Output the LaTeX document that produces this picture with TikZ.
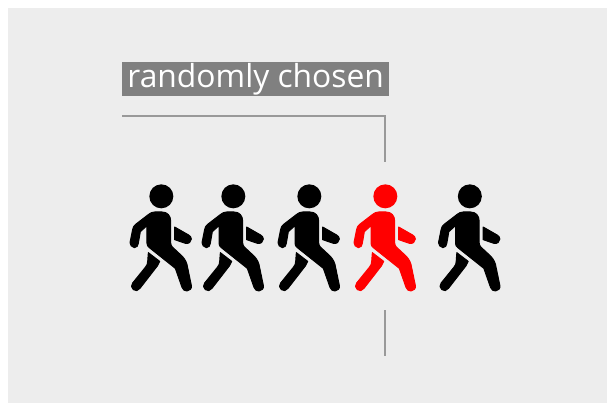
\documentclass[tikz,border=0pt]{standalone}
\usepackage{fontspec}
\setmainfont{Open Sans}
\definecolor{canvas}{HTML}{EDEDED}
\definecolor{labelgray}{HTML}{808080}
\definecolor{rulegray}{HTML}{999999}
\tikzset{
  rulerline/.style={draw=rulegray,line width=1.3pt},
  walker/.pic={
    \begin{scope}[x=0.3333pt,y=-0.3333pt,line width=1pt,line join=round]
    \fill[#1] (124,64) circle (36);
    \filldraw[#1] (30,203) .. controls (30,208) and (35,218) .. (43,218)
      .. controls (51,218) and (54,212) .. (55,205)
      -- (61,170) -- (81,152) -- (81,205)
      .. controls (81,211) and (84,215) .. (88,218)
      -- (166,280) -- (186,337)
      .. controls (189,345) and (194,348) .. (201,348)
      .. controls (210,348) and (216,340) .. (214,331)
      -- (203,278)
      .. controls (201,264) and (196,253) .. (186,243)
      -- (157,216)
      .. controls (154,213) and (152,208) .. (152,203)
      -- (152,138)
      .. controls (152,122) and (142,111) .. (126,111)
      -- (104,111)
      .. controls (97,111) and (91,114) .. (86,118)
      -- (47,148)
      .. controls (42,152) and (39,157) .. (38,163) -- cycle;
    \filldraw[#1] (164,156) -- (206,180)
      .. controls (211,183) and (214,187) .. (214,192)
      .. controls (214,200) and (206,208) .. (196,205)
      -- (164,194) -- cycle;
    \filldraw[#1] (85,233) -- (119,259)
      .. controls (117,265) and (116,268) .. (112,273)
      -- (60,340)
      .. controls (55,347) and (46,350) .. (40,344)
      .. controls (33,338) and (33,331) .. (38,324)
      -- (76,277)
      .. controls (81,271) and (83,266) .. (83,260) -- cycle;
    \end{scope}
  }
}
\begin{document}
\begin{tikzpicture}[x=1pt,y=-1pt]
\useasboundingbox (0,0) rectangle (607,403);
\fill[white] (0,0) rectangle (607,403);
\fill[canvas] (8,8) rectangle (607,403);
\node[fill=labelgray,text=white,inner sep=0pt,minimum width=267pt,minimum height=34pt,anchor=north west,font=\fontsize{31.8}{34}\selectfont] (lab) at (122,62) {randomly chosen};
\coordinate (a1) at (122,116);
\coordinate (a2) at (385,116);
\coordinate (a3) at (385,162);
\coordinate (b1) at (385,310);
\coordinate (b2) at (385,356);
\draw[rulerline] (a1) -- (a2) -- (a3);
\draw[rulerline] (b1) -- (b2);
\pic at (120,175) {walker=black};
\pic at (192,175) {walker=black};
\pic at (268,175) {walker=black};
\pic at (344,175) {walker=red};
\pic at (428.5,175) {walker=black};
\end{tikzpicture}
\end{document}
